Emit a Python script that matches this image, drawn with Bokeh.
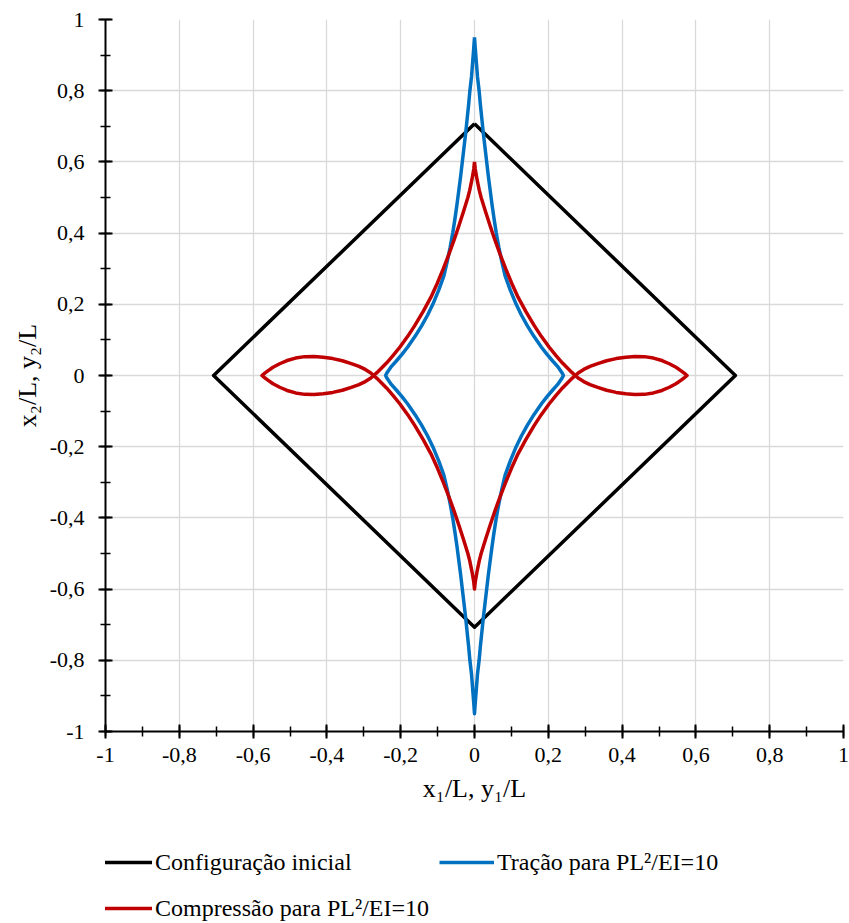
from bokeh.plotting import figure
from bokeh.layouts import column
from bokeh.models import (Range1d, SingleIntervalTicker, CustomJSTickFormatter,
                          Legend, LegendItem)
from bokeh.embed import file_html
from bokeh.resources import INLINE

# Initial configuration (square frame, diagonal orientation)
init_x = [0.0, 0.707, 0.0, -0.707, 0.0]
init_y = [0.707, 0.0, -0.707, 0.0, 0.707]

# Deformed shape under tension, PL^2/EI = 10, traced quadrant by quadrant
trac_q1_x = [0, 0.002, 0.005, 0.008, 0.0125, 0.016, 0.02, 0.024, 0.0285, 0.033, 0.0375, 0.0425, 0.0475, 0.053, 0.059,
             0.066, 0.074, 0.083, 0.097, 0.113, 0.127, 0.143, 0.161, 0.181, 0.196, 0.2125, 0.2255, 0.237, 0.241]
trac_q1_y = [0.95, 0.92, 0.88, 0.84, 0.8, 0.76, 0.72, 0.68, 0.64, 0.6, 0.56, 0.52, 0.48, 0.44, 0.4,
             0.36, 0.32, 0.28, 0.24, 0.2, 0.17, 0.14, 0.11, 0.08, 0.06, 0.04, 0.025, 0.008, 0]
trac_q4_x = [0.237, 0.2255, 0.2125, 0.196, 0.181, 0.161, 0.143, 0.127, 0.113, 0.097, 0.083, 0.074, 0.066, 0.059,
             0.053, 0.0475, 0.0425, 0.0375, 0.033, 0.0285, 0.024, 0.02, 0.016, 0.0125, 0.008, 0.005, 0.002, 0]
trac_q4_y = [-0.008, -0.025, -0.04, -0.06, -0.08, -0.11, -0.14, -0.17, -0.2, -0.24, -0.28, -0.32, -0.36, -0.4,
             -0.44, -0.48, -0.52, -0.56, -0.6, -0.64, -0.68, -0.72, -0.76, -0.8, -0.84, -0.88, -0.92, -0.95]
trac_q3_x = [-0.002, -0.005, -0.008, -0.0125, -0.016, -0.02, -0.024, -0.0285, -0.033, -0.0375, -0.0425, -0.0475, -0.053, -0.059,
             -0.066, -0.074, -0.083, -0.097, -0.113, -0.127, -0.143, -0.161, -0.181, -0.196, -0.2125, -0.2255, -0.237, -0.241]
trac_q3_y = [-0.92, -0.88, -0.84, -0.8, -0.76, -0.72, -0.68, -0.64, -0.6, -0.56, -0.52, -0.48, -0.44, -0.4,
             -0.36, -0.32, -0.28, -0.24, -0.2, -0.17, -0.14, -0.11, -0.08, -0.06, -0.04, -0.025, -0.008, 0]
trac_q2_x = [-0.237, -0.2255, -0.2125, -0.196, -0.181, -0.161, -0.143, -0.127, -0.113, -0.097, -0.083, -0.074, -0.066, -0.059,
             -0.053, -0.0475, -0.0425, -0.0375, -0.033, -0.0285, -0.024, -0.02, -0.016, -0.0125, -0.008, -0.005, -0.002, 0]
trac_q2_y = [0.008, 0.025, 0.04, 0.06, 0.08, 0.11, 0.14, 0.17, 0.2, 0.24, 0.28, 0.32, 0.36, 0.4,
             0.44, 0.48, 0.52, 0.56, 0.6, 0.64, 0.68, 0.72, 0.76, 0.8, 0.84, 0.88, 0.92, 0.95]

# Deformed shape under compression, PL^2/EI = 10 (with a loop at each side)
comp_a_x = [0, 0.002, 0.007, 0.013, 0.018, 0.030, 0.0425, 0.0555, 0.0695, 0.0845, 0.1005, 0.118, 0.139, 0.162,
            0.181, 0.202, 0.2215, 0.2385, 0.2545, 0.2645, 0.273]
comp_a_y = [0.6, 0.58, 0.55, 0.52, 0.5, 0.46, 0.42, 0.38, 0.34, 0.3, 0.26, 0.22, 0.18, 0.14,
            0.11, 0.08, 0.055, 0.035, 0.018, 0.008, 0]
comp_b_x = [0.283, 0.296, 0.313, 0.334, 0.358, 0.384, 0.41, 0.435, 0.46, 0.485, 0.508, 0.528, 0.546, 0.56, 0.57, 0.576]
comp_b_y = [-0.0085, -0.017, -0.0255, -0.0335, -0.0415, -0.0475, -0.0515, -0.0535, -0.053, -0.049, -0.042, -0.033,
            -0.023, -0.013, -0.005, 0]
comp_c_x = [0.57, 0.56, 0.546, 0.528, 0.508, 0.485, 0.46, 0.435, 0.41, 0.384, 0.358, 0.334, 0.313, 0.296, 0.283, 0.273]
comp_c_y = [0.005, 0.013, 0.023, 0.033, 0.042, 0.049, 0.053, 0.0535, 0.0515, 0.0475, 0.0415, 0.0335, 0.0255, 0.017,
            0.0085, 0]
comp_d_x = [0.2645, 0.2545, 0.2385, 0.2215, 0.202, 0.181, 0.162, 0.139, 0.118, 0.1005, 0.0845, 0.0695, 0.0555,
            0.0425, 0.030, 0.018, 0.013, 0.007, 0.002, 0]
comp_d_y = [-0.008, -0.018, -0.035, -0.055, -0.08, -0.11, -0.14, -0.18, -0.22, -0.26, -0.3, -0.34, -0.38,
            -0.42, -0.46, -0.5, -0.52, -0.55, -0.58, -0.6]
comp_e_x = [-0.002, -0.007, -0.013, -0.018, -0.030, -0.0425, -0.0555, -0.0695, -0.0845, -0.1005, -0.118, -0.139,
            -0.162, -0.181, -0.202, -0.2215, -0.2385, -0.2545, -0.2645, -0.273]
comp_e_y = [-0.58, -0.55, -0.52, -0.5, -0.46, -0.42, -0.38, -0.34, -0.3, -0.26, -0.22, -0.18,
            -0.14, -0.11, -0.08, -0.055, -0.035, -0.018, -0.008, 0]
comp_f_x = [-0.283, -0.296, -0.313, -0.334, -0.358, -0.384, -0.41, -0.435, -0.46, -0.485, -0.508, -0.528, -0.546,
            -0.56, -0.57, -0.576]
comp_f_y = [0.0085, 0.017, 0.0255, 0.0335, 0.0415, 0.0475, 0.0515, 0.0535, 0.053, 0.049, 0.042, 0.033, 0.023,
            0.013, 0.005, 0]
comp_g_x = [-0.57, -0.56, -0.546, -0.528, -0.508, -0.485, -0.46, -0.435, -0.41, -0.384, -0.358, -0.334, -0.313,
            -0.296, -0.283, -0.273]
comp_g_y = [-0.005, -0.013, -0.023, -0.033, -0.042, -0.049, -0.053, -0.0535, -0.0515, -0.0475, -0.0415, -0.0335,
            -0.0255, -0.017, -0.0085, 0]
comp_h_x = [-0.2645, -0.2545, -0.2385, -0.2215, -0.202, -0.181, -0.162, -0.139, -0.118, -0.1005, -0.0845, -0.0695,
            -0.0555, -0.0425, -0.030, -0.018, -0.013, -0.007, -0.002, 0]
comp_h_y = [0.008, 0.018, 0.035, 0.055, 0.08, 0.11, 0.14, 0.18, 0.22, 0.26, 0.3, 0.34,
            0.38, 0.42, 0.46, 0.5, 0.52, 0.55, 0.58, 0.6]

labels = ["Configuração inicial", "Tração para PL²/EI=10", "Compressão para PL²/EI=10"]
colors = ["#000000", "#0070C0", "#C00000"]

# closed paths, joined piece by piece
trac_x = trac_q1_x + trac_q4_x + trac_q3_x + trac_q2_x
trac_y = trac_q1_y + trac_q4_y + trac_q3_y + trac_q2_y
comp_x = comp_a_x + comp_b_x + comp_c_x + comp_d_x + comp_e_x + comp_f_x + comp_g_x + comp_h_x
comp_y = comp_a_y + comp_b_y + comp_c_y + comp_d_y + comp_e_y + comp_f_y + comp_g_y + comp_h_y
series = [(init_x, init_y), (trac_x, trac_y), (comp_x, comp_y)]

FONT = "Liberation Serif"
LINE_W = 3.5

# ---- main chart ----
p = figure(width=849, height=812, output_backend="svg", toolbar_location=None,
           x_range=Range1d(-1, 1), y_range=Range1d(-1, 1),
           min_border_left=105, min_border_right=6, min_border_top=19, min_border_bottom=81)
p.outline_line_color = None
p.background_fill_color = "white"
p.border_fill_color = "white"

fmt = CustomJSTickFormatter(code="""
const v = Math.round(tick * 10) / 10;
return v.toString().replace('.', ',');
""")

for ax in (p.xaxis[0], p.yaxis[0]):
    ax.ticker = SingleIntervalTicker(interval=0.2, num_minor_ticks=2)
    ax.formatter = fmt
    ax.axis_line_width = 2
    ax.axis_line_color = "black"
    ax.major_tick_line_width = 2
    ax.minor_tick_line_width = 1.5
    ax.major_tick_in = 7
    ax.major_tick_out = 7
    ax.minor_tick_in = 5
    ax.minor_tick_out = 5
    ax.major_label_text_font = FONT
    ax.major_label_text_font_size = "22px"
    ax.major_label_text_color = "black"
    ax.axis_label_text_font = FONT
    ax.axis_label_text_font_size = "26px"
    ax.axis_label_text_font_style = "normal"
    ax.axis_label_text_color = "black"

p.xaxis.axis_label = "x₁/L, y₁/L"
p.yaxis.axis_label = "x₂/L, y₂/L"
p.xaxis.major_label_standoff = 9
p.yaxis.major_label_standoff = 14
p.xaxis.axis_label_standoff = 9
p.yaxis.axis_label_standoff = 5

for g in (p.xgrid[0], p.ygrid[0]):
    g.ticker = SingleIntervalTicker(interval=0.2)
    g.grid_line_color = "#d9d9d9"
    g.grid_line_width = 1.3

for (sx, sy), c in zip(series, colors):
    p.line(sx, sy, line_color=c, line_width=LINE_W, line_join="round")

# ---- legend strip under the chart ----
# the same series are drawn here outside the visible range, so only the legend keys show
lg = figure(width=849, height=111, output_backend="svg", toolbar_location=None,
            x_range=Range1d(5, 6), y_range=Range1d(5, 6),
            x_axis_location=None, y_axis_location=None, min_border=0)
lg.outline_line_color = None
lg.xgrid.visible = False
lg.ygrid.visible = False
lg.border_fill_color = "white"

keys = [lg.line(sx, sy, line_color=c, line_width=LINE_W) for (sx, sy), c in zip(series, colors)]

legend = Legend(
    items=[LegendItem(label=lab, renderers=[r]) for lab, r in zip(labels, keys)],
    orientation="horizontal", ncols=2,
    location=(-8, -3),
    glyph_width=55, glyph_height=36, label_height=36, label_width=274,
    label_standoff=3, spacing=10, padding=0, margin=0,
    border_line_color=None, background_fill_alpha=0,
    label_text_font=FONT, label_text_font_size="24px", label_text_color="black",
)
lg.add_layout(legend, "center")

open("out.html", "w").write(file_html(column(p, lg, spacing=0), INLINE))
